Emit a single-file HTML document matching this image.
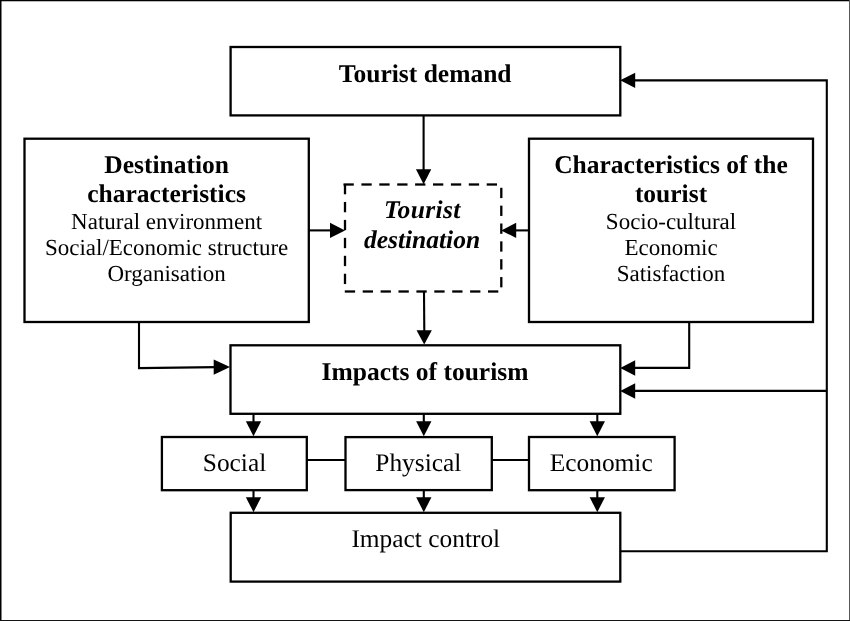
<!DOCTYPE html>
<html><head><meta charset="utf-8"><title>Tourism impacts diagram</title>
<style>html,body{margin:0;padding:0;background:#fff;}svg{display:block;}#w{filter:blur(0.3px);width:850px;height:621px;}text{font-family:"Liberation Serif",serif;fill:#000;text-rendering:geometricPrecision;}</style>
</head><body><div id="w">
<svg width="850" height="621" viewBox="0 0 850 621" font-family="Liberation Serif, serif">
<rect x="0" y="0" width="850" height="621" fill="#fff"/>
<rect x="0" y="0" width="1.5" height="621" fill="#000"/>
<rect x="0" y="0" width="850" height="1.27" fill="#000"/>
<rect x="849" y="0" width="1" height="621" fill="#585858"/>
<rect x="0" y="620" width="850" height="1" fill="#141414"/>
<rect x="230.6" y="47" width="389.7" height="68.4" fill="none" stroke="#000" stroke-width="2.3"/>
<rect x="24.5" y="138.7" width="284.3" height="183.3" fill="none" stroke="#000" stroke-width="2.3"/>
<rect x="529" y="138.7" width="284" height="183.3" fill="none" stroke="#000" stroke-width="2.3"/>
<rect x="230.5" y="345.3" width="389.8" height="68.5" fill="none" stroke="#000" stroke-width="2.3"/>
<rect x="161.9" y="437" width="144.9" height="53.2" fill="none" stroke="#000" stroke-width="2.3"/>
<rect x="345.5" y="437.1" width="146.3" height="53.0" fill="none" stroke="#000" stroke-width="2.3"/>
<rect x="529" y="437" width="145.6" height="53.2" fill="none" stroke="#000" stroke-width="2.3"/>
<rect x="230.7" y="512.8" width="389.6" height="68.8" fill="none" stroke="#000" stroke-width="2.3"/>
<rect x="343.5" y="183.35" width="10.3" height="2.3" fill="#000"/>
<rect x="344.8" y="290.35" width="10.3" height="2.3" fill="#000"/>
<rect x="361.4" y="183.35" width="10.3" height="2.3" fill="#000"/>
<rect x="362.7" y="290.35" width="10.3" height="2.3" fill="#000"/>
<rect x="379.3" y="183.35" width="10.3" height="2.3" fill="#000"/>
<rect x="380.6" y="290.35" width="10.3" height="2.3" fill="#000"/>
<rect x="397.2" y="183.35" width="10.3" height="2.3" fill="#000"/>
<rect x="398.5" y="290.35" width="10.3" height="2.3" fill="#000"/>
<rect x="415.1" y="183.35" width="10.3" height="2.3" fill="#000"/>
<rect x="416.4" y="290.35" width="10.3" height="2.3" fill="#000"/>
<rect x="433.0" y="183.35" width="10.3" height="2.3" fill="#000"/>
<rect x="434.3" y="290.35" width="10.3" height="2.3" fill="#000"/>
<rect x="450.9" y="183.35" width="10.3" height="2.3" fill="#000"/>
<rect x="452.2" y="290.35" width="10.3" height="2.3" fill="#000"/>
<rect x="468.8" y="183.35" width="10.3" height="2.3" fill="#000"/>
<rect x="470.1" y="290.35" width="10.3" height="2.3" fill="#000"/>
<rect x="486.7" y="183.35" width="10.3" height="2.3" fill="#000"/>
<rect x="488.0" y="290.35" width="10.3" height="2.3" fill="#000"/>
<rect x="343.85" y="184.0" width="2.3" height="10.3" fill="#000"/>
<rect x="500.15000000000003" y="187.8" width="2.3" height="10.3" fill="#000"/>
<rect x="343.85" y="201.95" width="2.3" height="10.3" fill="#000"/>
<rect x="500.15000000000003" y="205.65" width="2.3" height="10.3" fill="#000"/>
<rect x="343.85" y="219.9" width="2.3" height="10.3" fill="#000"/>
<rect x="500.15000000000003" y="223.5" width="2.3" height="10.3" fill="#000"/>
<rect x="343.85" y="237.85" width="2.3" height="10.3" fill="#000"/>
<rect x="500.15000000000003" y="241.35" width="2.3" height="10.3" fill="#000"/>
<rect x="343.85" y="255.8" width="2.3" height="10.3" fill="#000"/>
<rect x="500.15000000000003" y="259.2" width="2.3" height="10.3" fill="#000"/>
<rect x="343.85" y="273.75" width="2.3" height="10.3" fill="#000"/>
<rect x="500.15000000000003" y="277.05" width="2.3" height="10.3" fill="#000"/>
<path d="M423.6 115.4 L423.6 170" fill="none" stroke="#000" stroke-width="2.1" stroke-linejoin="miter"/>
<path d="M423.6 184.2 L415.95 169.2 L431.25 169.2 Z" fill="#000"/>
<path d="M424 291.5 L424.3 331" fill="none" stroke="#000" stroke-width="2.1" stroke-linejoin="miter"/>
<path d="M424.2 344.6 L416.55 330.2 L431.85 330.2 Z" fill="#000"/>
<path d="M308.8 230.4 L331 230.4" fill="none" stroke="#000" stroke-width="2.1" stroke-linejoin="miter"/>
<path d="M345 230.4 L330 222.75 L330 238.05 Z" fill="#000"/>
<path d="M529 230.4 L515 230.4" fill="none" stroke="#000" stroke-width="2.1" stroke-linejoin="miter"/>
<path d="M501.2 230.4 L516.2 222.75 L516.2 238.05 Z" fill="#000"/>
<path d="M139 322 L139 368.1 L216 367.1" fill="none" stroke="#000" stroke-width="2.1" stroke-linejoin="miter"/>
<path d="M230 367.1 L213.7 359.45 L213.7 374.75 Z" fill="#000"/>
<path d="M689.2 322 L689.2 367.9 L634 367.9" fill="none" stroke="#000" stroke-width="2.1" stroke-linejoin="miter"/>
<path d="M620.2 368 L635.2 360.35 L635.2 375.65 Z" fill="#000"/>
<path d="M620.3 551.2 L826.8 551.2 L826.8 80.4 L633 80.4" fill="none" stroke="#000" stroke-width="2.1" stroke-linejoin="miter"/>
<path d="M620.2 80.3 L635.2 72.65 L635.2 87.95 Z" fill="#000"/>
<path d="M826.8 390.9 L634 390.9" fill="none" stroke="#000" stroke-width="2.1" stroke-linejoin="miter"/>
<path d="M620.2 391 L635.2 383.35 L635.2 398.65 Z" fill="#000"/>
<path d="M253.5 413.8 L253.5 423" fill="none" stroke="#000" stroke-width="2.1" stroke-linejoin="miter"/>
<path d="M253.5 436.2 L245.85 421.2 L261.15 421.2 Z" fill="#000"/>
<path d="M253.5 490.2 L253.5 499" fill="none" stroke="#000" stroke-width="2.1" stroke-linejoin="miter"/>
<path d="M253.5 512.2 L245.85 497.2 L261.15 497.2 Z" fill="#000"/>
<path d="M423.8 413.8 L423.8 423" fill="none" stroke="#000" stroke-width="2.1" stroke-linejoin="miter"/>
<path d="M423.8 436.2 L416.15 421.2 L431.45 421.2 Z" fill="#000"/>
<path d="M423.8 490.2 L423.8 499" fill="none" stroke="#000" stroke-width="2.1" stroke-linejoin="miter"/>
<path d="M423.8 512.2 L416.15 497.2 L431.45 497.2 Z" fill="#000"/>
<path d="M597.3 413.8 L597.3 423" fill="none" stroke="#000" stroke-width="2.1" stroke-linejoin="miter"/>
<path d="M597.3 436.2 L589.65 421.2 L604.95 421.2 Z" fill="#000"/>
<path d="M597.3 490.2 L597.3 499" fill="none" stroke="#000" stroke-width="2.1" stroke-linejoin="miter"/>
<path d="M597.3 512.2 L589.65 497.2 L604.95 497.2 Z" fill="#000"/>
<path d="M306.8 459.9 L345.5 459.9" fill="none" stroke="#000" stroke-width="2.0" stroke-linejoin="miter"/>
<path d="M491.8 459.9 L529 459.9" fill="none" stroke="#000" stroke-width="2.0" stroke-linejoin="miter"/>
<text x="425.2" y="81.8" font-size="25.5" font-weight="bold" font-style="normal" text-anchor="middle">Tourist demand</text>
<text x="166.6" y="172.7" font-size="25.5" font-weight="bold" font-style="normal" text-anchor="middle">Destination</text>
<text x="166.6" y="202.2" font-size="25.5" font-weight="bold" font-style="normal" text-anchor="middle">characteristics</text>
<text x="166.6" y="228.6" font-size="23.0" font-weight="normal" font-style="normal" text-anchor="middle">Natural environment</text>
<text x="166.6" y="254.9" font-size="23.0" font-weight="normal" font-style="normal" text-anchor="middle">Social/Economic structure</text>
<text x="166.6" y="280.9" font-size="23.0" font-weight="normal" font-style="normal" text-anchor="middle">Organisation</text>
<text x="671" y="172.7" font-size="25.5" font-weight="bold" font-style="normal" text-anchor="middle">Characteristics of the</text>
<text x="671" y="202.2" font-size="25.5" font-weight="bold" font-style="normal" text-anchor="middle">tourist</text>
<text x="671" y="228.6" font-size="23.0" font-weight="normal" font-style="normal" text-anchor="middle">Socio-cultural</text>
<text x="671" y="254.9" font-size="23.0" font-weight="normal" font-style="normal" text-anchor="middle">Economic</text>
<text x="671" y="280.9" font-size="23.0" font-weight="normal" font-style="normal" text-anchor="middle">Satisfaction</text>
<text x="422.2" y="218.3" font-size="25.5" font-weight="bold" font-style="italic" text-anchor="middle" textLength="76.5" lengthAdjust="spacing">Tourist</text>
<text x="422" y="248.2" font-size="25.5" font-weight="bold" font-style="italic" text-anchor="middle">destination</text>
<text x="425" y="380.1" font-size="25.5" font-weight="bold" font-style="normal" text-anchor="middle">Impacts of tourism</text>
<text x="234.5" y="470.9" font-size="25.4" font-weight="normal" font-style="normal" text-anchor="middle">Social</text>
<text x="418.3" y="470.9" font-size="25.4" font-weight="normal" font-style="normal" text-anchor="middle">Physical</text>
<text x="601.2" y="470.9" font-size="25.4" font-weight="normal" font-style="normal" text-anchor="middle">Economic</text>
<text x="425.8" y="547.4" font-size="25.4" font-weight="normal" font-style="normal" text-anchor="middle">Impact control</text>
</svg>
</div></body></html>
